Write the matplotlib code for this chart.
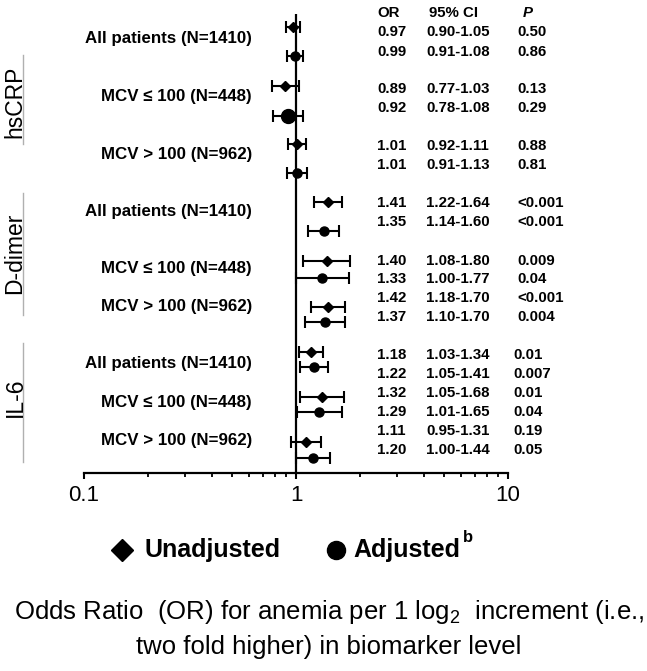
import matplotlib
matplotlib.use("Agg")
import matplotlib.pyplot as plt
from matplotlib.lines import Line2D

plt.rcParams["font.family"] = ["Liberation Sans", "DejaVu Sans"]
plt.rcParams["mathtext.fontset"] = "custom"
plt.rcParams["mathtext.rm"] = "Liberation Sans"
plt.rcParams["mathtext.it"] = "Liberation Sans:italic"
plt.rcParams["mathtext.bf"] = "Liberation Sans:bold"

# Data
biomarkers = ["hsCRP", "D-dimer", "IL-6"]
subgroups = ["All patients (N=1410)", "MCV \u2264 100 (N=448)", "MCV > 100 (N=962)"]

or_unadj = [0.97, 0.89, 1.01, 1.41, 1.40, 1.42, 1.18, 1.32, 1.11]
lo_unadj = [0.90, 0.77, 0.92, 1.22, 1.08, 1.18, 1.03, 1.05, 0.95]
hi_unadj = [1.05, 1.03, 1.11, 1.64, 1.80, 1.70, 1.34, 1.68, 1.31]
p_unadj = ["0.50", "0.13", "0.88", "<0.001", "0.009", "<0.001", "0.01", "0.01", "0.19"]

or_adj = [0.99, 0.92, 1.01, 1.35, 1.33, 1.37, 1.22, 1.29, 1.20]
lo_adj = [0.91, 0.78, 0.91, 1.14, 1.00, 1.10, 1.05, 1.01, 1.00]
hi_adj = [1.08, 1.08, 1.13, 1.60, 1.77, 1.70, 1.41, 1.65, 1.44]
p_adj = ["0.86", "0.29", "0.81", "<0.001", "0.04", "0.004", "0.007", "0.04", "0.05"]

# Layout (pixel rows, top = 0)
W, H = 647, 671
y_unadj = [27, 86, 144, 202, 261, 307, 352, 397, 442]
y_adj = [56, 116, 173, 231, 278, 322, 367, 412, 458]
label_y = [38, 97, 155, 211, 268, 306, 363, 402, 440]
txt_y_unadj = [32, 89, 146, 203, 261, 298, 355, 393, 431]
txt_y_adj = [52, 108, 165, 222, 279, 317, 374, 412, 450]
group_y = [102, 253, 397]
bracket_y = [(55, 144), (193, 315), (343, 462)]
p_x = [517, 517, 513]
adj_ms = [6.5, 10, 6.5, 6.5, 6.5, 6.5, 6.5, 6.5, 6.5]


def fp(x, y):
    return x / W, 1 - y / H


fig = plt.figure(figsize=(W / 100, H / 100), dpi=100)
ax_l, ax_r, ax_t, ax_b = 84, 508, 14, 473
ax = fig.add_axes([ax_l / W, 1 - ax_b / H, (ax_r - ax_l) / W, (ax_b - ax_t) / H])
ax.set_xscale("log")
ax.set_xlim(0.1, 10)
ax.set_ylim(ax_b, ax_t)

ax.axvline(1, color="black", lw=1.6, zorder=1)

for i in range(len(or_unadj)):
    ax.errorbar(or_unadj[i], y_unadj[i],
                xerr=[[or_unadj[i] - lo_unadj[i]], [hi_unadj[i] - or_unadj[i]]],
                fmt="D", color="black", ms=5.4, elinewidth=1.5, capsize=4.2,
                capthick=1.5, clip_on=False, zorder=3)
    ax.errorbar(or_adj[i], y_adj[i],
                xerr=[[or_adj[i] - lo_adj[i]], [hi_adj[i] - or_adj[i]]],
                fmt="o", color="black", ms=adj_ms[i], elinewidth=1.5, capsize=4.2,
                capthick=1.5, clip_on=False, zorder=3)

for s in ["left", "top", "right"]:
    ax.spines[s].set_visible(False)
ax.spines["bottom"].set_linewidth(1.6)
ax.set_yticks([])
ax.set_xticks([0.1, 1, 10])
ax.set_xticklabels(["0.1", "1", "10"])
ax.tick_params(axis="x", which="major", length=4.5, width=1.5, labelsize=16, pad=4)
ax.tick_params(axis="x", which="minor", length=3, width=1.3)

# row labels
for i, y in enumerate(label_y):
    fig.text(*fp(252, y), subgroups[i % 3], ha="right", va="center",
             fontsize=12.2, fontweight="bold")

# biomarker group labels with grey brackets
for g, name in enumerate(biomarkers):
    fig.text(*fp(15, group_y[g]), name, rotation=90, ha="center", va="center",
             fontsize=16.5)
    y0, y1 = bracket_y[g]
    fig.add_artist(Line2D([23 / W, 23 / W], [1 - y0 / H, 1 - y1 / H],
                          color="#b0b0b0", lw=1))

# table
tfs = 10.8
fig.text(*fp(377, 13), "OR", ha="left", va="center", fontsize=tfs, fontweight="bold")
fig.text(*fp(429, 13), "95% CI", ha="left", va="center", fontsize=tfs, fontweight="bold")
fig.text(*fp(523, 13), "P", ha="left", va="center", fontsize=tfs, fontweight="bold",
         style="italic")
for i in range(len(or_unadj)):
    px_ = p_x[i // 3]
    for y, o, lo, hi, p in [(txt_y_unadj[i], or_unadj[i], lo_unadj[i], hi_unadj[i], p_unadj[i]),
                            (txt_y_adj[i], or_adj[i], lo_adj[i], hi_adj[i], p_adj[i])]:
        fig.text(*fp(377, y), f"{o:.2f}", ha="left", va="center", fontsize=tfs,
                 fontweight="bold")
        fig.text(*fp(426, y), f"{lo:.2f}-{hi:.2f}", ha="left", va="center",
                 fontsize=tfs, fontweight="bold")
        fig.text(*fp(px_, y), p, ha="left", va="center", fontsize=tfs,
                 fontweight="bold")

# legend
fig.add_artist(Line2D([122 / W], [1 - 550 / H], marker="D", ms=11, color="black",
                      lw=0))
fig.text(*fp(145, 550), "Unadjusted", ha="left", va="center", fontsize=18,
         fontweight="bold")
fig.add_artist(Line2D([336 / W], [1 - 550 / H], marker="o", ms=13, color="black",
                      lw=0))
fig.text(*fp(353, 550), "Adjusted", ha="left", va="center", fontsize=18,
         fontweight="bold")
fig.text(*fp(463, 538), "b", ha="left", va="center", fontsize=12, fontweight="bold")

# x-axis caption
fig.text(*fp(329, 612), "Odds Ratio  (OR) for anemia per 1 log$_2$  increment (i.e.,",
         ha="center", va="center", fontsize=18.5)
fig.text(*fp(329, 647), "two fold higher) in biomarker level", ha="center",
         va="center", fontsize=18.5)

fig.savefig("out.png", dpi=100)
